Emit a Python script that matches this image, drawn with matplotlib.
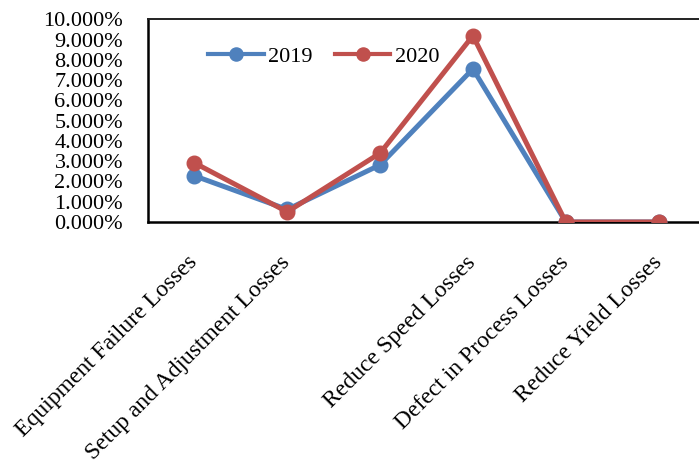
import numpy as np
import matplotlib.pyplot as plt
from matplotlib.ticker import FuncFormatter

categories = ["Equipment Failure Losses", "Setup and Adjustment Losses", "",
              "Reduce Speed Losses", "Defect in Process Losses", "Reduce Yield Losses"]
loss_2019 = [2.28, 0.62, 2.82, 7.56, 0.0, 0.0]
loss_2020 = [2.92, 0.50, 3.40, 9.20, 0.0, 0.0]
yticks = np.arange(0, 11, 1)

plt.rcParams['font.family'] = ['Liberation Serif', 'DejaVu Serif']

fig = plt.figure(figsize=(6.99, 4.61), dpi=100)
W, H = 699, 461
ax = fig.add_axes([148 / W, (H - 222) / H, 557 / W, (222 - 19.5) / H])

x = np.arange(len(categories))
ax.plot(x, loss_2019, color='#4F81BD', lw=3.6, marker='o', ms=10.5, label='2019', zorder=3)
ax.plot(x, loss_2020, color='#C0504D', lw=3.6, marker='o', ms=10.5, label='2020', zorder=4)

ax.set_xlim(-0.5, len(categories) - 0.5)
ax.set_ylim(0, 10)
ax.set_yticks(yticks)
ax.yaxis.set_major_formatter(FuncFormatter(lambda v, p: f"{v:.3f}%"))
ax.tick_params(axis='y', length=0, pad=18, labelsize=16)
ax.set_xticks(x)
ax.set_xticklabels(categories, rotation=45, ha='right', va='center',
                   rotation_mode='anchor', fontsize=17)
ax.tick_params(axis='x', length=0, pad=27)

for s in ['left', 'bottom']:
    ax.spines[s].set_linewidth(1.8)
    ax.spines[s].set_color('black')
ax.spines['top'].set_linewidth(1.4)
ax.spines['top'].set_color('#222222')

leg = ax.legend(loc='center left', bbox_to_anchor=(208 / W, 1 - 57 / H),
                bbox_transform=fig.transFigure, ncol=2, frameon=False,
                fontsize=16, handlelength=2.5, handletextpad=0.2,
                columnspacing=1.0, borderpad=0, borderaxespad=0, markerscale=0.9)
for line in leg.get_lines():
    line.set_linewidth(3)

fig.savefig('out.png', dpi=100)
